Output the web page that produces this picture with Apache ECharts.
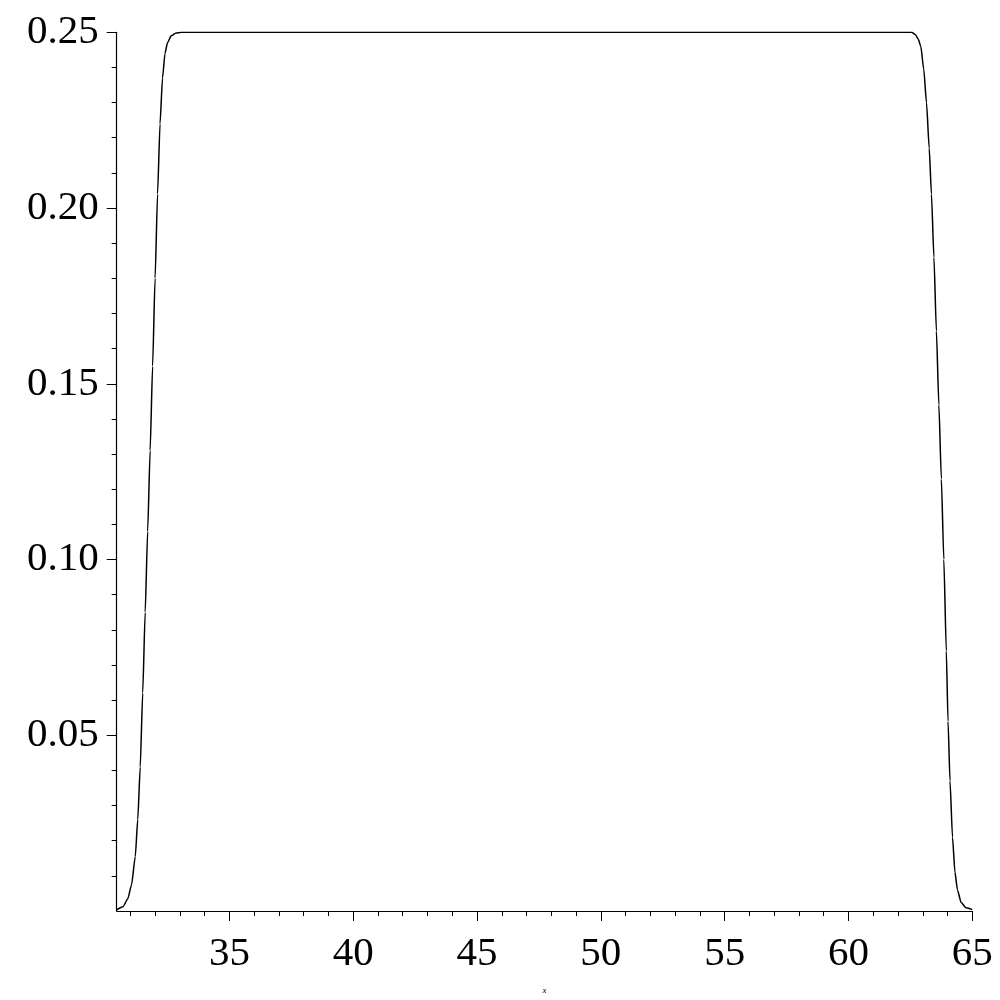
<!DOCTYPE html>
<html>
<head>
    <meta charset="utf-8">
    <script src="https://cdn.jsdelivr.net/npm/echarts@6/dist/echarts.min.js"></script>
    <style>
        * { margin: 0; padding: 0; }
        #main { width: 1000px; height: 1000px; background: #fff; }
    </style>
</head>
<body>
    <div id="main"></div>
    <script type="text/javascript">
        // curve points
        var xVals = [30.45, 30.70, 30.90, 31.05, 31.20, 31.30, 31.40, 31.50, 31.60, 31.70, 31.80, 31.90, 32.00, 32.10,
            32.20, 32.30, 32.40, 32.50, 32.65, 32.85, 33.05,
            62.55, 62.70, 62.82, 62.92, 63.04, 63.15, 63.26, 63.35, 63.45, 63.55, 63.65, 63.75, 63.85, 63.95,
            64.02, 64.10, 64.20, 64.30, 64.40, 64.55, 64.75, 65.00];
        var yVals = [0.0003, 0.0012, 0.0035, 0.0075, 0.0155, 0.0260, 0.0410, 0.0620, 0.0850, 0.1080, 0.1310, 0.1550, 0.1800, 0.2040,
            0.2240, 0.2370, 0.2440, 0.2470, 0.2490, 0.2498, 0.2500,
            0.2500, 0.2494, 0.2480, 0.2460, 0.2394, 0.2300, 0.2170, 0.2040, 0.1860, 0.1650, 0.1440, 0.1230, 0.1000, 0.0740,
            0.0540, 0.0370, 0.0210, 0.0110, 0.0060, 0.0024, 0.0009, 0.0004];

        var xMajor = [35, 40, 45, 50, 55, 60, 65];
        var xMinor = [31, 32, 33, 34, 36, 37, 38, 39, 41, 42, 43, 44, 46, 47, 48, 49, 51, 52, 53, 54, 56, 57, 58, 59, 61, 62, 63, 64];
        var yMajor = [0.05, 0.10, 0.15, 0.20, 0.25];
        var yMinor = [0.01, 0.02, 0.03, 0.04, 0.06, 0.07, 0.08, 0.09, 0.11, 0.12, 0.13, 0.14, 0.16, 0.17, 0.18, 0.19, 0.21, 0.22, 0.23, 0.24];

        var font = 'Liberation Serif';

        var points = [];
        for (var i = 0; i < xVals.length; i++) {
            points.push([xVals[i], yVals[i]]);
        }

        var myChart = echarts.init(document.getElementById('main'));

        var tickLine = { color: '#000', width: 1 };

        var option = {
            animation: false,
            backgroundColor: '#fff',
            grid: {
                left: 116.7,
                right: 27.7,
                top: 32.3,
                bottom: 87.3
            },
            xAxis: [{
                type: 'value',
                min: 30.45,
                max: 65,
                position: 'bottom',
                name: 'x',
                nameLocation: 'middle',
                nameGap: 75,
                nameTextStyle: {
                    fontFamily: font,
                    fontStyle: 'italic',
                    fontSize: 9,
                    color: '#000'
                },
                axisLine: {
                    lineStyle: { color: '#000', width: 1.2 }
                },
                axisTick: {
                    customValues: xMajor,
                    length: 10,
                    lineStyle: tickLine
                },
                axisLabel: {
                    customValues: xMajor,
                    fontFamily: font,
                    fontSize: 41,
                    color: '#000',
                    margin: 23
                },
                splitLine: { show: false }
            }, {
                type: 'value',
                min: 30.45,
                max: 65,
                position: 'bottom',
                axisLine: { show: false },
                axisTick: {
                    customValues: xMinor,
                    length: 5,
                    lineStyle: tickLine
                },
                axisLabel: { show: false },
                splitLine: { show: false }
            }],
            yAxis: [{
                type: 'value',
                min: 0,
                max: 0.25,
                position: 'left',
                axisLine: {
                    show: true,
                    lineStyle: { color: '#000', width: 1.2 }
                },
                axisTick: {
                    show: true,
                    customValues: yMajor,
                    length: 10,
                    lineStyle: tickLine
                },
                axisLabel: {
                    customValues: yMajor,
                    fontFamily: font,
                    fontSize: 41,
                    color: '#000',
                    margin: 18,
                    formatter: function (v) {
                        return v.toFixed(2);
                    }
                },
                splitLine: { show: false }
            }, {
                type: 'value',
                min: 0,
                max: 0.25,
                position: 'left',
                axisLine: { show: false },
                axisTick: {
                    show: true,
                    customValues: yMinor,
                    length: 5,
                    lineStyle: tickLine
                },
                axisLabel: { show: false },
                splitLine: { show: false }
            }],
            series: [{
                type: 'line',
                data: points,
                showSymbol: false,
                smooth: 0.2,
                smoothMonotone: 'x',
                lineStyle: { color: '#000', width: 1.5 }
            }]
        };

        myChart.setOption(option);
    </script>
</body>
</html>
